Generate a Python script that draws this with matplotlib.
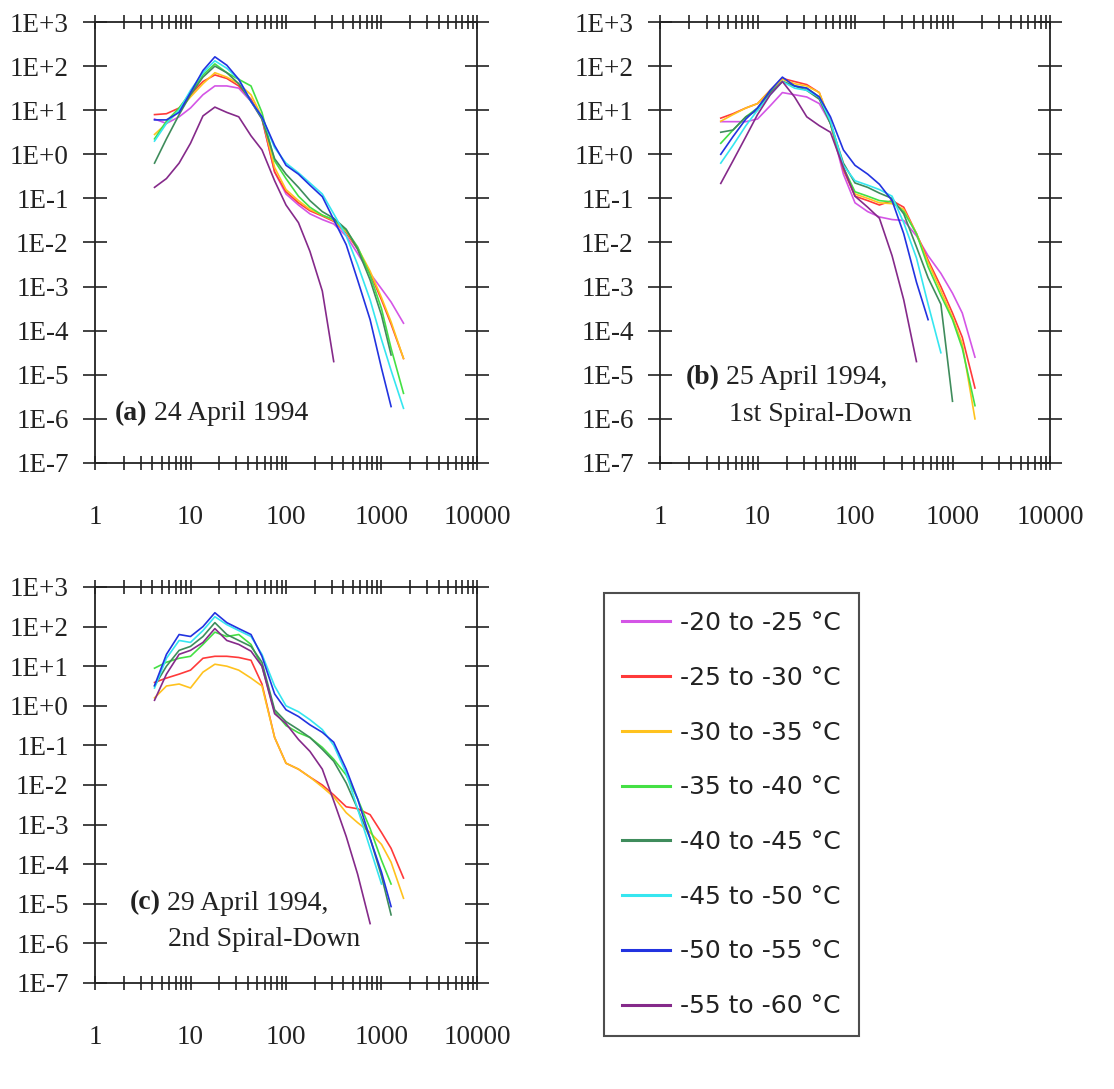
import numpy as np
import matplotlib
matplotlib.use('Agg')
import matplotlib.pyplot as plt
from matplotlib.ticker import FixedLocator, FixedFormatter, LogLocator, NullFormatter, NullLocator
from matplotlib.lines import Line2D

nan = float('nan')

# ---------------- data ----------------
series_labels = ['-20 to -25 \u00b0C', '-25 to -30 \u00b0C', '-30 to -35 \u00b0C', '-35 to -40 \u00b0C',
                 '-40 to -45 \u00b0C', '-45 to -50 \u00b0C', '-50 to -55 \u00b0C', '-55 to -60 \u00b0C']
series_colors = ['#d455e6', '#ff3a3a', '#ffc21e', '#44e044', '#3f8c5c', '#36e6f0', '#2233e0', '#852a8a']

# particle size (x axis)
diam = [4.2, 5.6, 7.6, 10, 13.5, 18, 24, 32, 43, 56, 76, 100, 135, 178, 240, 316,
        427, 562, 760, 1000, 1260, 1700]

x_ticks = [1, 10, 100, 1000, 10000]
x_tick_labels = ['1', '10', '100', '1000', '10000']
y_ticks = [1e3, 1e2, 1e1, 1e0, 1e-1, 1e-2, 1e-3, 1e-4, 1e-5, 1e-6, 1e-7]
y_tick_labels = ['1E+3', '1E+2', '1E+1', '1E+0', '1E-1', '1E-2', '1E-3', '1E-4', '1E-5', '1E-6', '1E-7']

# values, as log10 of concentration
# panel (a) 24 April 1994
a_m = [0.80, 0.70, 0.85, 1.05, 1.35, 1.55, 1.55, 1.50, 1.20, 0.80, -0.40, -0.90, -1.15, -1.35, -1.48, -1.58, -1.85, -2.25, -2.70, -3.05, -3.35, -3.83]
a_r = [0.90, 0.92, 1.05, 1.35, 1.65, 1.80, 1.72, 1.55, 1.25, 0.82, -0.40, -0.85, -1.10, -1.28, -1.40, -1.52, -1.78, -2.15, -2.70, -3.30, -3.85, -4.63]
a_y = [0.45, 0.70, 1.00, 1.30, 1.60, 1.85, 1.75, 1.60, 1.35, 0.85, -0.30, -0.80, -1.05, -1.25, -1.38, -1.50, -1.75, -2.12, -2.65, -3.25, -3.80, -4.63]
a_g = [0.35, 0.75, 1.05, 1.40, 1.80, 2.05, 1.85, 1.70, 1.55, 0.95, -0.15, -0.55, -0.95, -1.20, -1.38, -1.48, -1.72, -2.10, -2.75, -3.50, -4.40, -5.42]
a_dg = [-0.20, 0.35, 0.90, 1.35, 1.75, 2.00, 1.85, 1.60, 1.20, 0.80, -0.10, -0.45, -0.75, -1.05, -1.30, -1.45, -1.70, -2.15, -2.85, -3.65, -4.55, nan]
a_c = [0.30, 0.70, 1.00, 1.45, 1.85, 2.12, 1.95, 1.70, 1.20, 0.85, 0.15, -0.20, -0.42, -0.65, -0.90, -1.35, -1.85, -2.50, -3.30, -4.20, -4.90, -5.76]
a_b = [0.78, 0.78, 0.95, 1.40, 1.90, 2.21, 2.02, 1.70, 1.20, 0.85, 0.20, -0.25, -0.45, -0.70, -0.96, -1.48, -2.05, -2.85, -3.75, -4.85, -5.72, nan]
a_p = [-0.75, -0.55, -0.20, 0.25, 0.87, 1.07, 0.95, 0.85, 0.42, 0.10, -0.60, -1.15, -1.55, -2.20, -3.10, -4.70, nan, nan, nan, nan, nan, nan]

# panel (b) 25 April 1994, 1st spiral-down
b_m = [0.74, 0.74, 0.74, 0.80, 1.10, 1.40, 1.35, 1.30, 1.15, 0.70, -0.45, -1.10, -1.30, -1.42, -1.48, -1.50, -1.85, -2.30, -2.70, -3.15, -3.60, -4.60]
b_r = [0.82, 0.92, 1.05, 1.15, 1.45, 1.72, 1.65, 1.58, 1.40, 0.70, -0.35, -0.95, -1.05, -1.15, -1.05, -1.20, -1.80, -2.40, -3.00, -3.60, -4.15, -5.30]
b_y = [0.75, 0.90, 1.05, 1.15, 1.45, 1.70, 1.60, 1.55, 1.40, 0.75, -0.30, -0.90, -1.00, -1.10, -1.12, -1.25, -1.80, -2.45, -3.10, -3.70, -4.30, -6.00]
b_g = [0.25, 0.55, 0.85, 1.05, 1.40, 1.65, 1.55, 1.50, 1.30, 0.70, -0.30, -0.85, -0.95, -1.05, -1.08, -1.30, -1.80, -2.55, -3.20, -3.75, -4.40, -5.70]
b_dg = [0.50, 0.55, 0.85, 1.00, 1.40, 1.65, 1.55, 1.45, 1.25, 0.70, -0.20, -0.65, -0.75, -0.88, -1.00, -1.35, -2.10, -2.80, -3.40, -5.60, nan, nan]
b_c = [-0.20, 0.20, 0.65, 1.00, 1.35, 1.65, 1.50, 1.45, 1.30, 0.75, -0.25, -0.60, -0.70, -0.80, -0.95, -1.55, -2.35, -3.40, -4.50, nan, nan, nan]
b_b = [0.00, 0.40, 0.80, 1.05, 1.45, 1.75, 1.55, 1.50, 1.30, 0.85, 0.10, -0.25, -0.45, -0.68, -1.05, -1.80, -2.90, -3.75, nan, nan, nan, nan]
b_p = [-0.66, -0.15, 0.40, 0.90, 1.35, 1.65, 1.30, 0.85, 0.65, 0.50, -0.30, -0.95, -1.20, -1.45, -2.30, -3.30, -4.70, nan, nan, nan, nan, nan]

# panel (c) 29 April 1994, 2nd spiral-down (no -20 to -25 data)
c_r = [0.59, 0.70, 0.80, 0.90, 1.20, 1.25, 1.25, 1.22, 1.15, 0.55, -0.80, -1.45, -1.60, -1.80, -2.00, -2.25, -2.55, -2.60, -2.75, -3.20, -3.60, -4.35]
c_y = [0.20, 0.50, 0.55, 0.45, 0.85, 1.05, 1.00, 0.90, 0.70, 0.50, -0.80, -1.45, -1.60, -1.80, -2.05, -2.30, -2.70, -2.95, -3.20, -3.50, -3.95, -4.86]
c_g = [0.95, 1.10, 1.20, 1.25, 1.55, 1.86, 1.75, 1.80, 1.55, 1.00, -0.15, -0.50, -0.68, -0.80, -1.05, -1.35, -1.75, -2.35, -3.10, -3.90, -4.50, nan]
c_dg = [0.50, 1.00, 1.40, 1.50, 1.75, 2.10, 1.80, 1.65, 1.50, 1.10, -0.10, -0.40, -0.60, -0.80, -1.10, -1.40, -1.95, -2.60, -3.35, -4.30, -5.28, nan]
c_c = [0.45, 1.20, 1.65, 1.60, 1.90, 2.25, 2.05, 1.90, 1.75, 1.30, 0.50, 0.00, -0.15, -0.35, -0.60, -1.00, -1.70, -2.60, -3.60, -4.50, nan, nan]
c_b = [0.51, 1.30, 1.80, 1.75, 2.00, 2.35, 2.10, 1.95, 1.80, 1.25, 0.30, -0.10, -0.27, -0.48, -0.67, -0.92, -1.60, -2.35, -3.35, -4.20, -5.07, nan]
c_p = [0.14, 0.80, 1.30, 1.40, 1.60, 1.95, 1.65, 1.55, 1.38, 1.00, -0.20, -0.45, -0.85, -1.15, -1.60, -2.40, -3.30, -4.25, -5.50, nan, nan, nan]

panel_a = [a_m, a_r, a_y, a_g, a_dg, a_c, a_b, a_p]
panel_b = [b_m, b_r, b_y, b_g, b_dg, b_c, b_b, b_p]
panel_c = [None, c_r, c_y, c_g, c_dg, c_c, c_b, c_p]

# ---------------- figure ----------------
plt.rcParams['font.family'] = ['Liberation Serif', 'DejaVu Serif']
W, H = 1114, 1089
fig = plt.figure(figsize=(W / 100, H / 100), dpi=100)


def make_axes(x0, x1, ytop, ybot):
    return fig.add_axes([x0 / W, 1 - ybot / H, (x1 - x0) / W, (ybot - ytop) / H])


def style(ax):
    ax.set_xscale('log')
    ax.set_yscale('log')
    ax.set_xlim(1, 1e4)
    ax.set_ylim(1e-7, 1e3)
    ax.xaxis.set_major_locator(FixedLocator(x_ticks))
    ax.xaxis.set_major_formatter(FixedFormatter(x_tick_labels))
    ax.xaxis.set_minor_locator(LogLocator(base=10, subs=list(range(2, 10)), numticks=20))
    ax.xaxis.set_minor_formatter(NullFormatter())
    ax.yaxis.set_major_locator(FixedLocator(y_ticks))
    ax.yaxis.set_major_formatter(FixedFormatter(y_tick_labels))
    ax.yaxis.set_minor_locator(NullLocator())
    ax.tick_params(axis='x', which='both', direction='inout', length=10, width=1.2,
                   top=True, bottom=True, pad=25, labelsize=19.5, colors='#222222')
    ax.tick_params(axis='y', which='major', direction='inout', length=17, width=1.2,
                   left=True, right=True, pad=10.5, labelsize=19.5, colors='#222222')
    for s in ax.spines.values():
        s.set_linewidth(1.3)
        s.set_color('#222222')


def draw(ax, panel):
    for vals, col in zip(panel, series_colors):
        if vals is None:
            continue
        ax.plot(diam, 10 ** np.array(vals, dtype=float), color=col, lw=1.2)


ax_a = make_axes(95, 477, 22, 463)
ax_b = make_axes(660, 1050, 22, 463)
ax_c = make_axes(95, 477, 587, 983)
for ax, p in ((ax_a, panel_a), (ax_b, panel_b), (ax_c, panel_c)):
    style(ax)
    draw(ax, p)

tcol = '#222222'
fs = 20


def label(ax, x, y, tag, rest):
    t = ax.text(x, y, tag, transform=ax.transAxes, fontsize=fs, fontweight='bold',
                va='center', ha='left', color=tcol)
    ax.annotate(rest, xy=(1, 0.5), xycoords=t, va='center', ha='left', fontsize=fs, color=tcol)


label(ax_a, 0.052, 0.113, '(a)', ' 24 April 1994')
label(ax_b, 0.065, 0.193, '(b)', ' 25 April 1994,')
ax_b.text(0.177, 0.11, '1st Spiral-Down', transform=ax_b.transAxes, fontsize=fs,
          va='center', ha='left', color=tcol)
label(ax_c, 0.09, 0.202, '(c)', ' 29 April 1994,')
ax_c.text(0.19, 0.109, '2nd Spiral-Down', transform=ax_c.transAxes, fontsize=fs,
          va='center', ha='left', color=tcol)

handles = [Line2D([], [], color=c, lw=2.2) for c in series_colors]
leg = fig.legend(handles, series_labels, loc='upper left',
                 bbox_to_anchor=(604 / W, 1 - 593 / H), bbox_transform=fig.transFigure,
                 prop={'family': 'DejaVu Sans', 'size': 18}, frameon=True, fancybox=False,
                 edgecolor='#222222', borderaxespad=0, handlelength=1.92, handletextpad=0.4,
                 labelspacing=1.23, borderpad=0.72)
leg.get_frame().set_linewidth(1.5)
for txt in leg.get_texts():
    txt.set_color(tcol)

fig.savefig('out.png', dpi=100, facecolor='white')
